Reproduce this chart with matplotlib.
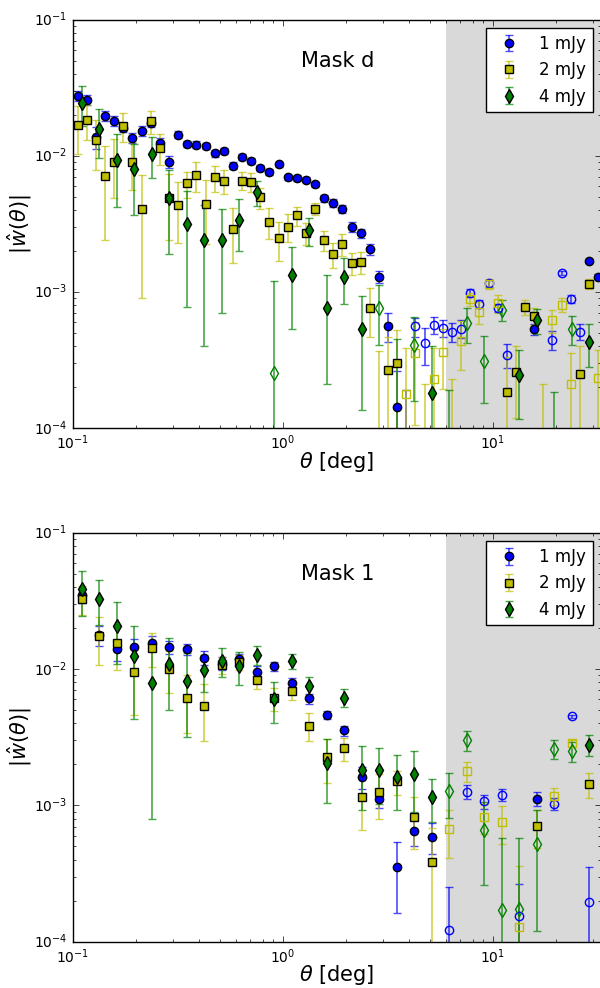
import numpy as np
import matplotlib
matplotlib.use("Agg")
import matplotlib.pyplot as plt

nan = np.nan

# bin centres (deg): fine bins used for 1 and 2 mJy in mask d, coarse bins elsewhere
theta_fine = [0.1053, 0.1164, 0.1286, 0.1422, 0.1571, 0.1737, 0.1920, 0.2122, 0.2345, 0.2592,
              0.2865, 0.3167, 0.3500, 0.3869, 0.4276, 0.4726, 0.5224, 0.5774, 0.6382, 0.7054,
              0.7796, 0.8617, 0.9524, 1.053, 1.164, 1.286, 1.422, 1.571, 1.737, 1.920,
              2.122, 2.345, 2.592, 2.865, 3.167, 3.500, 3.869, 4.276, 4.726, 5.224,
              5.774, 6.382, 7.054, 7.796, 8.617, 9.524, 10.53, 11.64, 12.86, 14.22,
              15.71, 17.37, 19.20, 21.22, 23.45, 25.92, 28.65, 31.67]
theta_coarse = [0.1101, 0.1334, 0.1616, 0.1957, 0.2371, 0.2873, 0.3481, 0.4217, 0.5109, 0.6190,
                0.7499, 0.9085, 1.101, 1.334, 1.616, 1.957, 2.371, 2.873, 3.481, 4.217,
                5.109, 6.190, 7.499, 9.085, 11.01, 13.34, 16.16, 19.57, 23.71, 28.73]

# Mask d  (negative values are drawn with open markers)
w1_d = [0.0277, 0.0259, 0.0138, 0.0198, 0.0182, 0.0162, 0.0136, 0.0153, 0.0175, 0.0125,
        0.0091, 0.0144, 0.0123, 0.0121, 0.0118, 0.0105, 0.0109, 0.0085, 0.0099, 0.0092,
        0.0082, 0.0077, 0.0087, 0.0070, 0.0069, 0.0067, 0.0062, 0.0049, 0.0045, 0.0041,
        0.00303, 0.00271, 0.00207, 0.0013, 0.000568, 0.000144, -0.00005, -0.00056, -0.00042, -0.000575,
        -0.000545, -0.00051, -0.00054, -0.00099, -0.00082, -0.00116, -0.00077, -0.000347, nan, nan,
        0.000534, nan, -0.000447, -0.00138, -0.00089, -0.000513, 0.0017, 0.0013]
e1_d = [0.0022, 0.0021, 0.0025, 0.0016, 0.0015, 0.0013, 0.0012, 0.0012, 0.0012, 0.0010,
        0.0009, 0.0008, 0.0007, 0.0007, 0.0006, 0.0006, 0.0005, 0.0005, 0.0005, 0.0004,
        0.0004, 0.0004, 0.0004, 0.0003, 0.0003, 0.0003, 0.0003, 0.0003, 0.0003, 0.0003,
        0.00025, 0.00022, 0.00018, 0.00014, 0.00014, 0.00012, 0.00014, 0.00009, 0.00013, 0.00008,
        0.00008, 0.00008, 0.00008, 0.00007, 0.00006, 0.00006, 0.00005, 0.00007, nan, nan,
        0.00005, nan, 0.00007, 0.00005, 0.00006, 0.00007, 0.00005, 0.00005]

w2_d = [0.0168, 0.0185, 0.0132, 0.0071, 0.0091, 0.0167, 0.0091, 0.0041, 0.018, 0.01155,
        0.0049, 0.00438, 0.0063, 0.0072, 0.00447, 0.00697, 0.0066, 0.0029, 0.0066, 0.00648,
        0.00497, 0.0033, 0.0025, 0.00303, 0.00366, 0.00274, 0.0041, 0.0024, 0.0019, 0.00226,
        0.00163, 0.00166, 0.00077, -0.00005, 0.000268, 0.0003, -0.00018, -0.000356, 0.00005, -0.000229,
        -0.000366, 0.00005, -0.00044, -0.00089, -0.00071, -0.00115, -0.00083, 0.000184, 0.00026, 0.000775,
        0.00067, 0.00005, -0.00062, -0.00081, -0.00021, 0.00025, 0.00115, -0.000235]
e2_d = [0.0064, 0.0053, 0.0053, 0.0047, 0.0042, 0.0040, 0.0035, 0.0032, 0.0035, 0.0030,
        0.0025, 0.0021, 0.0014, 0.0018, 0.0022, 0.0015, 0.0013, 0.00125, 0.0010, 0.0010,
        0.0009, 0.00085, 0.0008, 0.0007, 0.0006, 0.0005, 0.0004, 0.0004, 0.0004, 0.0004,
        0.0003, 0.0003, 0.0003, 0.00032, 0.0002, 0.00023, 0.00021, 0.00025, 0.00016, 0.00016,
        0.00017, 0.00018, 0.00017, 0.0001, 0.00013, 0.0001, 0.00013, 0.00015, 0.00014, 0.0001,
        0.0001, 0.00016, 0.00012, 0.0001, 0.00015, 0.00015, 0.0001, 0.00014]

w4_d = [0.0246, 0.0159, 0.0094, 0.0080, 0.0104, 0.0049, 0.00318, 0.0024, 0.0024, 0.0034,
        0.00543, -0.000256, 0.00134, 0.00284, 0.00077, 0.0013, 0.000537, -0.00077, -0.00005, -0.00041,
        0.000181, 0.00005, -0.00059, -0.000314, -0.00074, 0.000247, 0.00062, 0.00005, -0.00054, 0.00043]
e4_d = [0.008, 0.0063, 0.0052, 0.0043, 0.0035, 0.003, 0.0024, 0.002, 0.0017, 0.0014,
        0.0011, 0.00096, 0.0008, 0.00065, 0.00056, 0.00048, 0.0004, 0.00036, 0.0004, 0.00025,
        0.00022, 0.00014, 0.00017, 0.00016, 0.00013, 0.00013, 0.00013, 0.000136, 0.00013, 0.00015]

# Mask 1
w1_1 = [0.0348, 0.0177, 0.0140, 0.0145, 0.0156, 0.0145, 0.0140, 0.0121, 0.0110, 0.0118,
        0.0096, 0.0105, 0.0079, 0.0061, 0.00464, 0.00356, 0.00161, 0.00112, 0.000352, 0.00065,
        0.00059, -0.000122, -0.00126, -0.00107, -0.00119, -0.000155, 0.00112, -0.00103, -0.0045, -0.000195]
e1_1 = [0.004, 0.003, 0.0025, 0.0023, 0.002, 0.0015, 0.0013, 0.0014, 0.0012, 0.0012,
        0.001, 0.0008, 0.0007, 0.0005, 0.0003, 0.0003, 0.0003, 0.00017, 0.00019, 0.00015,
        0.00015, 0.00013, 0.00015, 0.00013, 0.00012, 0.00011, 0.00013, 0.0001, 0.0001, 0.00016]

w2_1 = [0.033, 0.0175, 0.0155, 0.0096, 0.0144, 0.0101, 0.0062, 0.00535, 0.0108, 0.0113,
        0.0084, 0.0061, 0.0069, 0.00386, 0.00225, 0.00262, 0.00116, 0.00125, 0.0015, 0.00082,
        0.000384, -0.00067, -0.00178, -0.00082, -0.000755, -0.000129, 0.00071, -0.00118, -0.00285, 0.00144]
e2_1 = [0.008, 0.0068, 0.0057, 0.005, 0.004, 0.0034, 0.0028, 0.0024, 0.0015, 0.0015,
        0.0012, 0.0012, 0.001, 0.0009, 0.0008, 0.0005, 0.0005, 0.00045, 0.0003, 0.00034,
        0.0003, 0.00026, 0.0003, 0.0002, 0.00023, 0.00023, 0.00022, 0.00017, 0.00015, 0.0003]

w4_1 = [0.0386, 0.033, 0.0209, 0.0126, 0.0079, 0.011, 0.0082, 0.0098, 0.0115, 0.0105,
        0.0128, 0.006, 0.0115, 0.0075, 0.00205, 0.0062, 0.00183, 0.00183, 0.00163, 0.0017,
        0.00116, -0.00127, -0.0030, -0.00066, -0.000171, -0.000173, -0.00052, -0.0026, -0.0025, 0.0028]
e4_1 = [0.014, 0.012, 0.01, 0.0083, 0.0071, 0.006, 0.005, 0.003, 0.0028, 0.0028,
        0.002, 0.002, 0.0015, 0.0013, 0.001, 0.0009, 0.0009, 0.0008, 0.0007, 0.0008,
        0.0004, 0.00046, 0.0005, 0.0004, 0.00041, 0.0004, 0.0004, 0.0004, 0.0004, 0.0005]

labels = ["1 mJy", "2 mJy", "4 mJy"]
colors = ["b", "y", "g"]
markers = ["o", "s", "d"]
sizes = [6, 6, 7]


def draw_series(ax, theta, w, err, color, marker, ms, label):
    theta = np.asarray(theta)
    w = np.asarray(w, dtype=float)
    err = np.asarray(err, dtype=float)
    a = np.abs(w)
    lo = np.minimum(err, a * 0.999)
    ok = ~np.isnan(w)
    for filled in (True, False):
        m = ok & ((w > 0) == filled)
        if filled:
            kw = dict(mfc=color, mec="k", label=label)
        else:
            kw = dict(mfc="none", mec=color)
        line, caps, bars = ax.errorbar(theta[m], a[m], yerr=[lo[m], err[m]], fmt=marker,
                                       color=color, ecolor=color, ms=ms, mew=1,
                                       capsize=3, elinewidth=1.2, **kw)
        for c in caps:
            c.set_alpha(0.7)
        for b in bars:
            b.set_alpha(0.7)


plt.style.use("classic")
plt.rcParams.update({
    "figure.facecolor": "white",
    "savefig.facecolor": "white",
    "mathtext.fontset": "dejavusans",
    "font.family": ["DejaVu Sans"],
    "xtick.labelsize": 10,
    "ytick.labelsize": 10,
})

fig = plt.figure(figsize=(6.0, 9.88), dpi=100)
ax_top = fig.add_axes([73 / 600, 0.5665, 528 / 600, 0.4133])
ax_bot = fig.add_axes([73 / 600, 0.0469, 528 / 600, 0.4136])

panels = [
    (ax_top, "Mask d", [theta_fine, theta_fine, theta_coarse],
     [w1_d, w2_d, w4_d], [e1_d, e2_d, e4_d]),
    (ax_bot, "Mask 1", [theta_coarse, theta_coarse, theta_coarse],
     [w1_1, w2_1, w4_1], [e1_1, e2_1, e4_1]),
]

for ax, title, thetas, ws, es in panels:
    ax.axvspan(6, 100, color="0.85", lw=0, zorder=0)
    for k in range(3):
        draw_series(ax, thetas[k], ws[k], es[k], colors[k], markers[k], sizes[k], labels[k])
    ax.set_xscale("log")
    ax.set_yscale("log")
    ax.set_xlim(0.1, 32.7)
    ax.set_ylim(1e-4, 1e-1)
    ax.set_xlabel(r"$\theta$ [deg]", fontsize=15, labelpad=-2)
    ax.set_ylabel(r"$|\hat{w}(\theta)|$", fontsize=15, labelpad=0)
    ax.text(0.502, 0.9, title, transform=ax.transAxes, ha="center", va="center", fontsize=15)
    ax.legend(loc="upper right", numpoints=1, fontsize=12, borderaxespad=0.5)

fig.savefig("out.png", dpi=100)
